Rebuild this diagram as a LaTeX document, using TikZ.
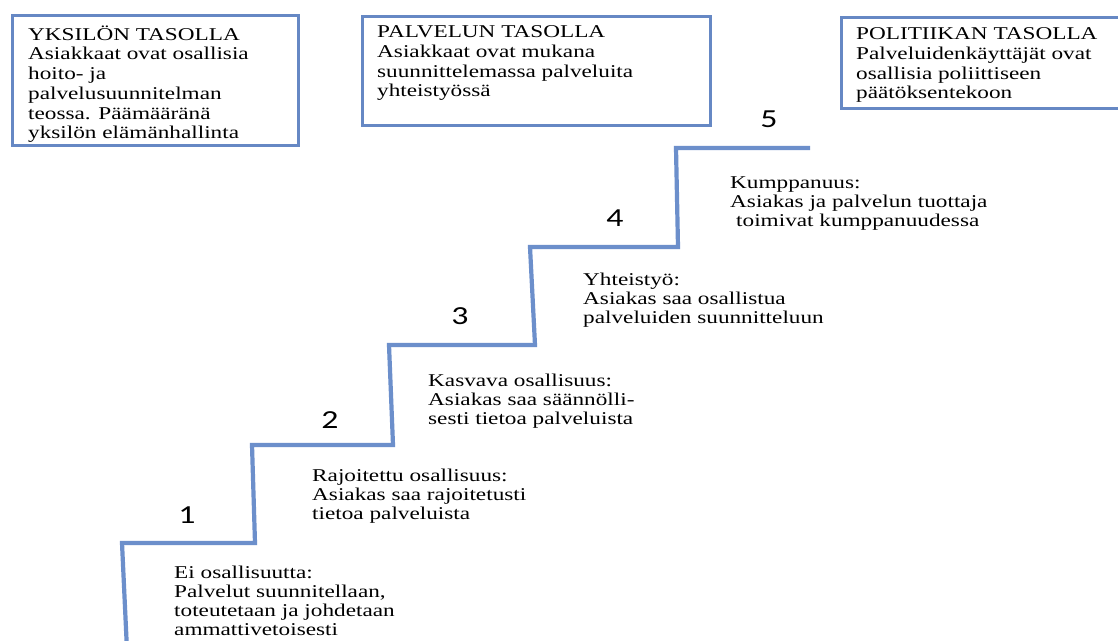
\documentclass[tikz,border=0pt]{standalone}
\usepackage{fontspec}
\newfontfamily\bodyfont[FakeStretch=1.29]{Liberation Serif}
\newfontfamily\digitfont[FakeStretch=1.3]{Carlito}
\definecolor{stairblue}{RGB}{108,143,203}
\definecolor{panelblue}{RGB}{102,136,196}
\newcommand{\firstline}{\rule{0pt}{17pt}}
\tikzset{
  panel/.style={draw=panelblue, line width=3pt, fill=white},
  stair/.style={draw=stairblue, line width=4.2pt, line join=miter},
  boxtext/.style={anchor=north west, inner sep=0pt, align=left,
    font={\bodyfont\fontsize{18}{19.7}\selectfont}},
  steptext/.style={anchor=north west, inner sep=0pt, align=left,
    font={\bodyfont\fontsize{18}{19}\selectfont}},
  stepnum/.style={anchor=base, inner sep=0pt,
    font={\digitfont\fontsize{26}{28}\selectfont}}
}
\begin{document}
\begin{tikzpicture}[x=1pt, y=-1pt]
\useasboundingbox (0,0) rectangle (1118,640);
\clip (0,0) rectangle (1118,640);
\fill[white] (0,0) rectangle (1118,640);

% level panels
\draw[panel] (12,15) rectangle (298,145);
\draw[panel] (362,16) rectangle (710,125);
\draw[panel] (841,17) rectangle (1135,108);

\node[boxtext] (yksilo) at (28,23) {\firstline YKSILÖN TASOLLA\\
  Asiakkaat ovat osallisia\\ hoito- ja\\ palvelusuunnitelman\\
  teossa. Päämääränä\\ yksilön elämänhallinta};
\node[boxtext] (palvelu) at (377,20.5) {\firstline PALVELUN TASOLLA\\
  Asiakkaat ovat mukana\\ suunnittelemassa palveluita\\ yhteistyössä};
\node[boxtext] (politiikka) at (856,22.5) {\firstline POLITIIKAN TASOLLA\\
  Palveluidenkäyttäjät ovat\\ osallisia poliittiseen\\ päätöksentekoon};

% staircase corners
\coordinate (s0) at (127,650);
\coordinate (s1a) at (122,543);
\coordinate (s1b) at (255,543);
\coordinate (s2a) at (252,445);
\coordinate (s2b) at (393,445);
\coordinate (s3a) at (389,345);
\coordinate (s3b) at (535,345);
\coordinate (s4a) at (530,247);
\coordinate (s4b) at (678,247);
\coordinate (s5a) at (676,148);
\coordinate (s5b) at (810,148);
\draw[stair] (s0) -- (s1a) -- (s1b) -- (s2a) -- (s2b) -- (s3a) -- (s3b)
  -- (s4a) -- (s4b) -- (s5a) -- (s5b);

% step numbers
\node[stepnum] (n1) at (187,523.5) {1};
\node[stepnum] (n2) at (330,428.5) {2};
\node[stepnum] (n3) at (460,324) {3};
\node[stepnum] (n4) at (615,226) {4};
\node[stepnum] (n5) at (769,127) {5};

% step descriptions
\node[steptext] (t1) at (174,561) {\firstline Ei osallisuutta:\\
  Palvelut suunnitellaan,\\ toteutetaan ja johdetaan\\ ammattivetoisesti};
\node[steptext] (t2) at (312,464) {\firstline Rajoitettu osallisuus:\\
  Asiakas saa rajoitetusti\\ tietoa palveluista};
\node[steptext] (t3) at (428,369) {\firstline Kasvava osallisuus:\\
  Asiakas saa säännölli-\\ sesti tietoa palveluista};
\node[steptext] (t4) at (583,268) {\firstline Yhteistyö:\\
  Asiakas saa osallistua\\ palveluiden suunnitteluun};
\node[steptext] (t5) at (730,171) {\firstline Kumppanuus:\\
  Asiakas ja palvelun tuottaja\\ \hspace*{6pt}toimivat kumppanuudessa};
\end{tikzpicture}
\end{document}
